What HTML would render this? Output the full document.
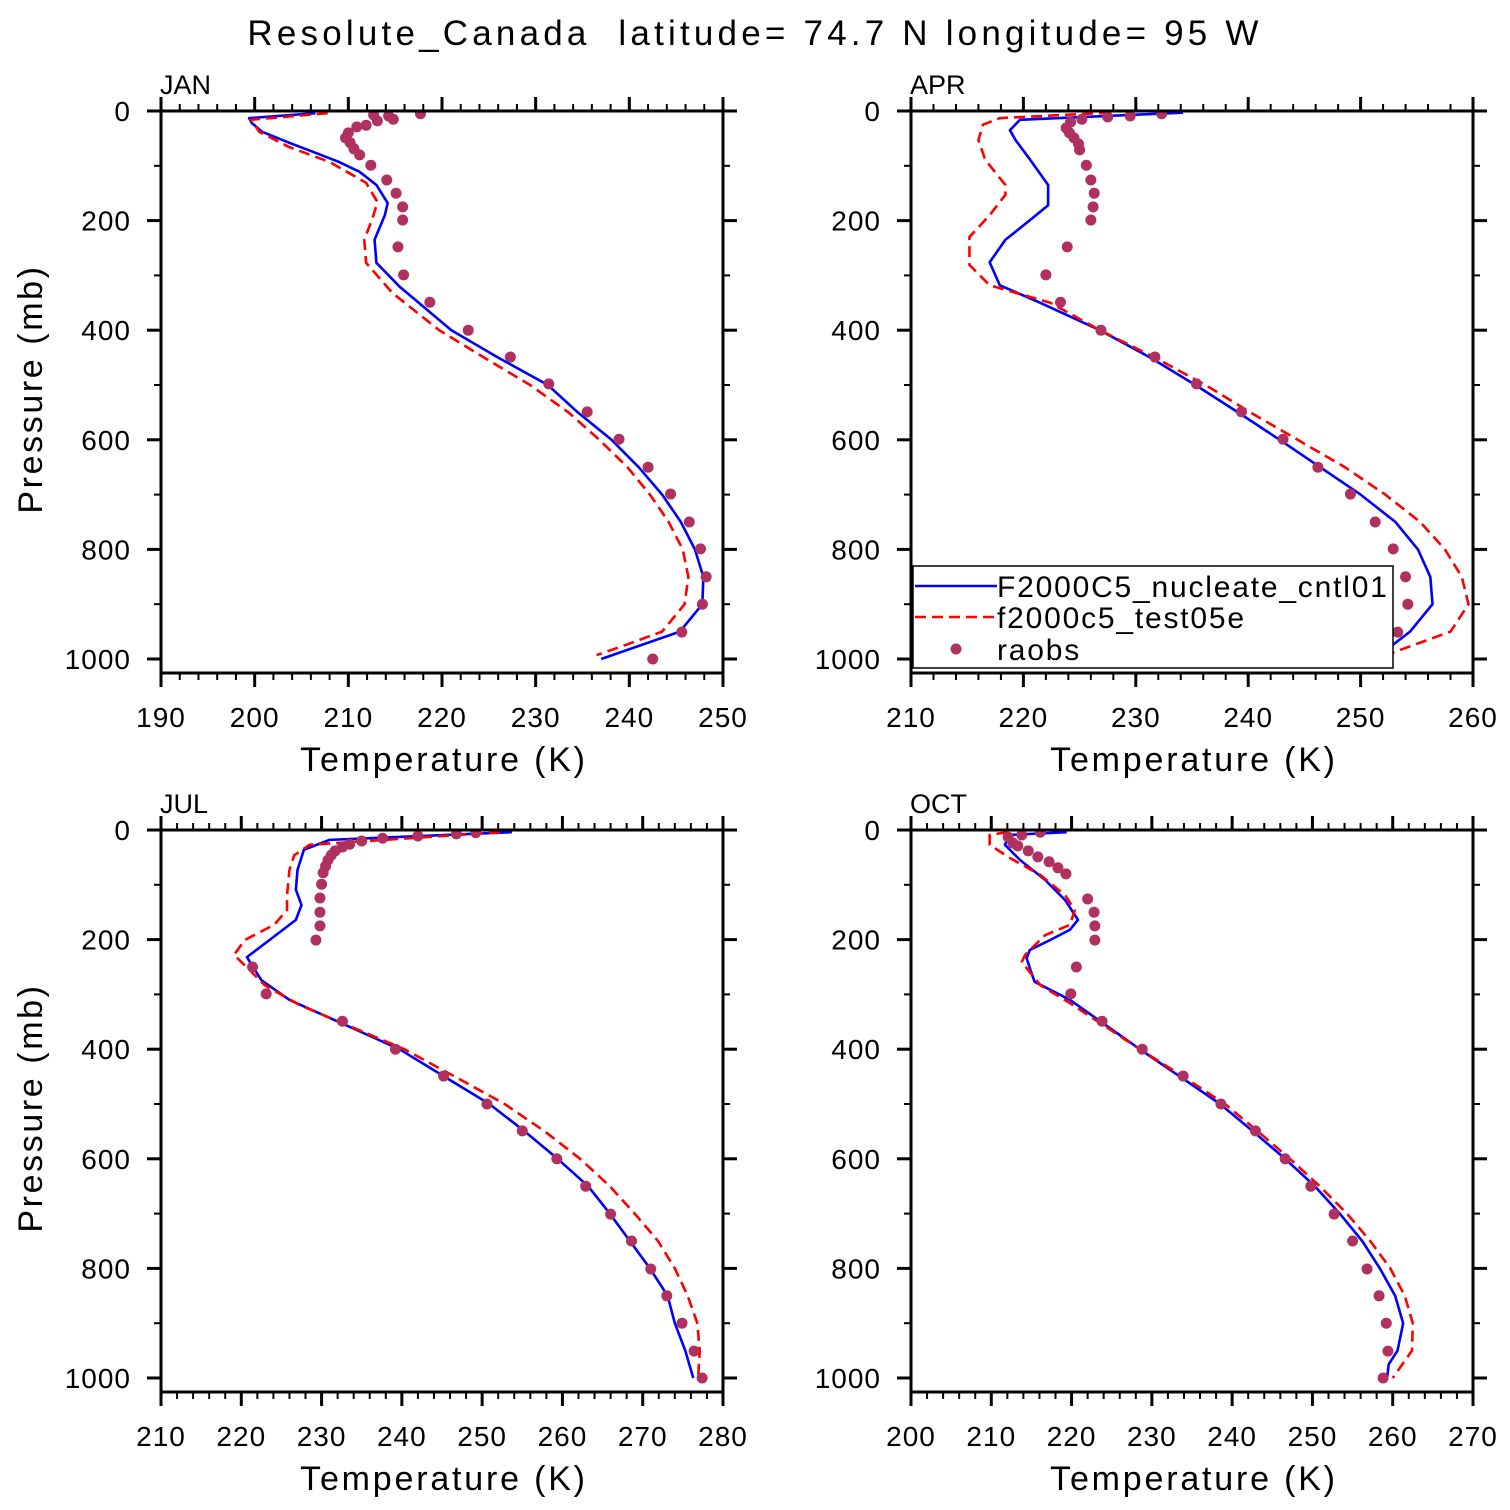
<!DOCTYPE html>
<html><head><meta charset="utf-8"><style>
html,body{margin:0;padding:0;background:#fff}
svg{display:block;font-family:"Liberation Sans",sans-serif}
</style></head><body>
<svg id="chart" width="1510" height="1510" viewBox="0 0 1510 1510">
<text x="755" y="45" text-anchor="middle" font-size="35" letter-spacing="4.2" style="white-space:pre">Resolute_Canada  latitude= 74.7 N longitude= 95 W</text>
<g id="panels"></g>
</svg>
<script>
// ---- JAN ----
const janBlueT=[206.5,199.4,199.7,200.8,203.7,206.6,209.0,211.2,213.0,214.2,213.9,212.8,213,215.5,221,226,231.3,234.5,238.1,241,243.5,245.5,247,247.9,247.8,245.4,237];
const janBlueP=[4,13,22,38,58,77,93,111,135,168,190,235,277,321,400,450,500,550,600,650,700,750,800,850,900,950,1000];
const janRedT=[207.8,199.6,200.5,203.7,208,211.9,213.1,212.6,211.7,211.9,214.7,219.7,224.5,229.4,233.5,236.8,239.8,242.2,244.2,245.7,246.3,245.9,243.5,239.5,236.5];
const janRedP=[4,16,38,66,93,131,166,195,235,277,332,400,450,500,550,600,650,700,750,800,850,900,950,975,993];
const janObsT=[217.7,212.7,213.1,214.3,214.8,210.9,211.9,210.0,209.7,210.2,210.6,211.2,212.4,214.1,215.1,215.8,215.8,215.3,215.9,218.7,222.8,227.3,231.4,235.5,238.9,242.0,244.4,246.4,247.6,248.2,247.8,245.6,242.5];
const janObsP=[5,7,18,9,15,29,26,40,49,58,69,80,99,126,150,175,199,248,299,349,400,449,498,549,599,650,699,750,799,850,900,951,1000];
// ---- APR ----
const aprBlueT=[234.2,219.7,218.8,219.3,220.6,222.2,222.2,220.6,218.4,217.0,217.9,221.5,226.8,231.3,235.3,239.1,242.8,246.4,250,253.1,255.1,256.2,256.4,254.4,252.5,250.8];
const aprBlueP=[3,16,35,53,89,135,172,199,235,276,318,350,400,450,500,550,600,650,700,750,800,850,900,950,980,1000];
const aprRedT=[227.7,217.9,216.4,216,216.6,218.4,218.4,217,215.2,215.2,217,222.4,226.8,231.7,236.2,240.2,244.4,248.6,252.2,255.3,257.5,259,259.6,258,251.3];
const aprRedP=[3,13,25,53,89,135,153,190,230,281,318,350,400,450,500,550,600,650,700,750,800,850,900,950,1000];
const aprObsT=[232.3,229.5,227.5,225.2,224.2,223.8,224.1,224.5,224.9,225.0,225.6,226.0,226.3,226.2,226.0,223.9,222.0,223.3,226.9,231.7,235.4,239.4,243.1,246.2,249.1,251.3,252.9,254.0,254.2,253.3,251.0];
const aprObsP=[5,9,11,15,20,31,40,49,60,71,99,126,150,175,199,248,299,349,400,449,498,549,599,650,699,750,799,850,900,951,1000];
// ---- JUL ----
const julBlueT=[253.7,231,227.8,227,226.8,227.5,226.8,223.5,220.7,222.5,226,239.7,245.3,250.9,255.3,259.4,263.2,265.9,268.4,270.9,273.1,274.0,275.3,276.3];
const julBlueP=[4,18,36,73,109,137,164,201,232,274,310,400,450,500,550,600,650,700,750,800,850,900,950,1000];
const julRedT=[252.2,228.5,226.6,226,225.7,225.7,224.1,220.4,219.1,221,222.9,227.2,240.3,246.6,252.8,257.8,262.2,265.9,269,271.9,274,275.6,276.8,277.1,276.9];
const julRedP=[4,27,46,73,119,146,173,201,228,255,283,319,400,450,500,550,600,650,700,750,800,850,900,950,1000];
const julObsT=[249.2,246.8,242,237.6,235,233.5,232.6,231.7,231.2,230.8,230.5,230.2,230,229.8,229.8,229.8,229.3,221.4,223.1,232.6,239.2,245.2,250.6,255.0,259.3,262.9,266.0,268.6,271,273,274.9,276.4,277.4];
const julObsP=[5,7,11,15,20,26,31,38,46,55,66,78,99,124,150,175,201,250,299,349,400,449,500,549,600,650,701,750,801,850,900,951,1000];
// ---- OCT ----
const octBlueT=[219.4,212.3,211.7,213.6,216.7,219.2,220.8,219.8,217.3,214.8,214.4,215.1,215.4,219.8,228.5,233.5,238.5,242.6,246.6,250.3,253.4,256.2,258.4,260.3,261.3,260.6,259.5,259.3];
const octBlueP=[4,9,27,55,91,128,164,182,201,219,234,265,277,310,400,450,500,550,600,650,700,750,800,850,900,950,975,1000];
const octRedT=[212,209.8,209.8,212.3,216.1,219.2,220.4,219.8,216.7,214.2,213.8,215.1,216.1,219.8,228.5,233.9,239.1,243.2,247.2,250.9,254.3,257.2,259.7,261.5,262.5,262.4,260.0];
const octRedP=[4,9,27,51,82,119,146,173,192,228,241,265,283,316,400,450,500,550,600,650,700,750,800,850,900,950,1000];
const octObsT=[216.1,213.8,212.1,212.7,213.3,214.6,215.8,217.2,218.3,219.3,222.0,222.8,222.9,222.9,220.6,219.9,223.8,228.8,233.9,238.6,242.9,246.6,249.8,252.7,255.0,256.8,258.3,259.2,259.4,258.8];
const octObsP=[4,9,13,24,29,38,49,58,69,80,126,150,175,201,250,299,349,400,449,500,549,600,650,701,750,801,850,900,951,1000];
// ticks
const janXTicks=[190,200,210,220,230,240,250];
const aprXTicks=[210,220,230,240,250,260];
const julXTicks=[210,220,230,240,250,260,270,280];
const octXTicks=[200,210,220,230,240,250,260,270];
const yTicks=[0,200,400,600,800,1000];

const NS="http://www.w3.org/2000/svg";
const root=document.getElementById('panels');
function mk(tag,attrs,parent){const e=document.createElementNS(NS,tag);for(const k in attrs)e.setAttribute(k,attrs[k]);parent.appendChild(e);return e;}

function panel(cfg){
  const g=mk('g',{},root);
  
  
  const L=cfg.left,R=cfg.left+562,T=cfg.top,B=cfg.top+562;
  const xmin=cfg.xt[0],xmax=cfg.xt[cfg.xt.length-1];
  const X=v=>L+(v-xmin)/(xmax-xmin)*(R-L);
  const Y=p=>T+p*0.548;
  const tk=mk('g',{stroke:'#000','stroke-width':2},g);
  
  
  for(let v=xmin;v<=xmax+1e-6;v+=2){
    const major=Math.abs((v-xmin)%10)<1e-6;const len=major?14:7;const x=X(v);
    mk('line',{x1:x,x2:x,y1:B,y2:B+len,'stroke-width':major?3:2},tk);
    mk('line',{x1:x,x2:x,y1:T,y2:T-len,'stroke-width':major?3:2},tk);
  }
  for(let p=0;p<=1000;p+=100){
    const major=p%200===0;const len=major?14:7;const y=Y(p);
    mk('line',{x1:L,x2:L-len,y1:y,y2:y,'stroke-width':major?3:2},tk);
    mk('line',{x1:R,x2:R+len,y1:y,y2:y,'stroke-width':major?3:2},tk);
  }
  cfg.xt.forEach(v=>{const t=mk('text',{x:X(v),y:B+54,'text-anchor':'middle','font-size':28,'letter-spacing':1},g);t.textContent=v;
    });
  yTicks.forEach(p=>{const t=mk('text',{x:L-30,y:Y(p)+10,'text-anchor':'end','font-size':28,'letter-spacing':1},g);t.textContent=p;
    });
  const xt=mk('text',{x:(L+R)/2+2,y:B+98,'text-anchor':'middle','font-size':34,'letter-spacing':2.8},g);xt.textContent='Temperature (K)';
  
  if(cfg.ytitle){const yt=mk('text',{x:0,y:0,'text-anchor':'middle','font-size':34,'letter-spacing':2.6,transform:`translate(42,${(T+B)/2-3}) rotate(-90)`},g);yt.textContent='Pressure (mb)';
    }
  const lb=mk('text',{x:L-1,y:T-17,'font-size':27},g);lb.textContent=cfg.label;
  
  const clip=mk('clipPath',{id:'c'+cfg.id},g);mk('rect',{x:L,y:T,width:R-L,height:B-T},clip);
  const pg=mk('g',{'clip-path':`url(#c${cfg.id})`},g);
  const b=mk('polyline',{points:cfg.bT.map((t,i)=>X(t)+','+Y(cfg.bP[i])).join(' '),fill:'none',stroke:'#0000ff','stroke-width':2.6,'stroke-linejoin':'round'},pg);
  
  const r=mk('polyline',{points:cfg.rT.map((t,i)=>X(t)+','+Y(cfg.rP[i])).join(' '),fill:'none',stroke:'#ff0000','stroke-width':2.6,'stroke-dasharray':'11 6'},pg);
  
  cfg.oT.forEach((t,i)=>{const c=mk('circle',{cx:X(t),cy:Y(cfg.oP[i]),r:5.5,fill:'#b03060'},pg);
    });
  const f=mk('rect',{x:L,y:T,width:R-L,height:B-T,fill:'none',stroke:'#000','stroke-width':3},g);
  
  return g;
}
panel({id:'jan',label:'JAN',left:161,top:111,xt:janXTicks,bT:janBlueT,bP:janBlueP,rT:janRedT,rP:janRedP,oT:janObsT,oP:janObsP,ytitle:true});
const apr=panel({id:'apr',label:'APR',left:911,top:111,xt:aprXTicks,bT:aprBlueT,bP:aprBlueP,rT:aprRedT,rP:aprRedP,oT:aprObsT,oP:aprObsP,ytitle:false});
panel({id:'jul',label:'JUL',left:161,top:830,xt:julXTicks,bT:julBlueT,bP:julBlueP,rT:julRedT,rP:julRedP,oT:julObsT,oP:julObsP,ytitle:true});
panel({id:'oct',label:'OCT',left:911,top:830,xt:octXTicks,bT:octBlueT,bP:octBlueP,rT:octRedT,rP:octRedP,oT:octObsT,oP:octObsP,ytitle:false});
// legend
const lg=mk('g',{},apr);


mk('rect',{x:913,y:566,width:480,height:102,fill:'#fff',stroke:'#000','stroke-width':1.5},lg);
mk('line',{x1:915,x2:997,y1:586,y2:586,stroke:'#0000ff','stroke-width':2.6},lg);
mk('line',{x1:915,x2:997,y1:617,y2:617,stroke:'#ff0000','stroke-width':2.6,'stroke-dasharray':'11 6'},lg);
mk('circle',{cx:956,cy:649,r:5.5,fill:'#b03060'},lg);
[['F2000C5_nucleate_cntl01',597],['f2000c5_test05e',628],['raobs',660]].forEach(([s,y])=>{
  const t=mk('text',{x:997,y:y,'font-size':30,'letter-spacing':1.8},lg);t.textContent=s;
  
  
});
</script>
</body></html>
